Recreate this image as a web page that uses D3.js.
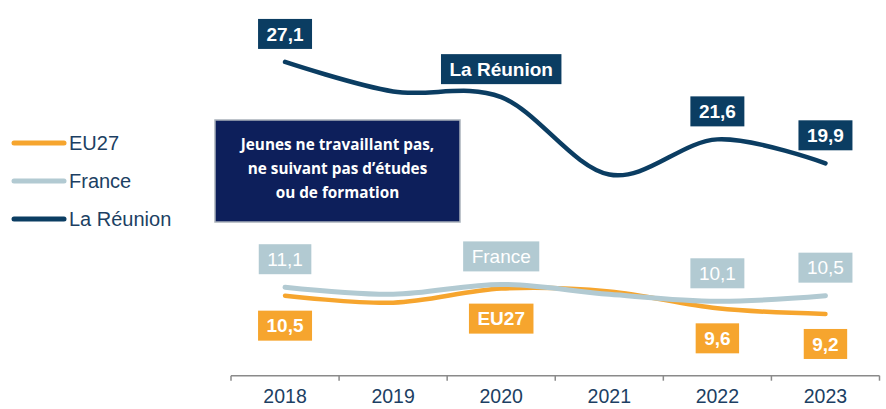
<!DOCTYPE html>
<html>
<head>
<meta charset="utf-8">
<script src="https://cdn.jsdelivr.net/npm/d3@7"></script>
<style>
  body { margin: 0; background: #fff; }
  svg { display: block; }
</style>
</head>
<body>
<div id="chart"></div>
<script>
// data
var years = ["2018", "2019", "2020", "2021", "2022", "2023"]
var reunion = [27.1, 25.0, 24.6, 19.1, 21.6, 19.9]
var france = [11.1, 10.6, 11.3, 10.6, 10.1, 10.5]
var eu27 = [10.5, 10.0, 11.0, 10.8, 9.6, 9.2]
var seriesNames = ["EU27", "France", "La Réunion"]
var labelledYears = [0, 4, 5]   // value labels
var nameYear = 2                // where the series name sits
var titleLines = ["Jeunes ne travaillant pas,", "ne suivant pas d\u2019études", "ou de formation"]

var W = 886, H = 409
var fr = d3.formatLocale({decimal: ",", thousands: " ", grouping: [3], currency: ["", " €"]})
var fmt = fr.format(".1f")

var series = [
  {name: seriesNames[0], values: eu27, colour: "#f6a52e", width: 4.5, labelDy: 30, bold: true},
  {name: seriesNames[1], values: france, colour: "#b2cad2", width: 5, labelDy: -28, bold: false},
  {name: seriesNames[2], values: reunion, colour: "#0b3d62", width: 4.5, labelDy: -28, bold: true}
]

var svg = d3.select("#chart").append("svg")
  .attr("width", W).attr("height", H)

var x = d3.scaleBand().domain(years).range([231, 879.5])
var y = d3.scaleLinear().domain([0, 30]).range([443.5, 21.1])
function cx(i) { return x(years[i]) + x.bandwidth() / 2 }

// category axis: line, ticks at band edges, labels at centres
var axisY = 375.7
var edges = years.map(d => x(d)).concat([x.range()[1]])
var axis = svg.append("g").classed("axis", true)
axis.append("line")
  .attr("x1", edges[0]).attr("x2", edges[edges.length - 1])
  .attr("y1", axisY).attr("y2", axisY)
  .style("stroke", "#8a8a8a").style("stroke-width", 1.5)
axis.selectAll("line.tick").data(edges).enter().append("line").classed("tick", true)
  .attr("x1", d => d).attr("x2", d => d)
  .attr("y1", axisY).attr("y2", axisY + 5)
  .style("stroke", "#8a8a8a").style("stroke-width", 1.5)
axis.selectAll("text").data(years).enter().append("text")
  .attr("x", (d, i) => cx(i)).attr("y", 403)
  .attr("text-anchor", "middle")
  .style("font-family", "'Liberation Sans', Arial, sans-serif")
  .style("font-size", "19.5px")
  .style("fill", "#1c3f63")
  .text(d => d)

// lines
var line = d3.line()
  .x((d, i) => cx(i))
  .y(d => y(d))
  .curve(d3.curveCardinal.tension(0))

svg.selectAll("path.serie").data(series).enter().append("path").classed("serie", true)
  .attr("d", d => line(d.values))
  .style("fill", "none")
  .style("stroke", d => d.colour)
  .style("stroke-width", d => d.width)
  .style("stroke-linecap", "round")

// boxed labels
function boxLabel(g, cxv, cyv, txt, colour, bold) {
  var grp = g.append("g")
  var r = grp.append("rect").style("fill", colour)
  var t = grp.append("text")
    .attr("x", cxv).attr("y", cyv).attr("dy", "0.35em")
    .attr("text-anchor", "middle")
    .style("font-family", "'Liberation Sans', Arial, sans-serif")
    .style("font-size", "19px")
    .style("font-weight", bold ? "bold" : "normal")
    .style("fill", "#fff")
    .text(txt)
  var w = t.node().getComputedTextLength() + 17
  var h = 30
  r.attr("x", cxv - w / 2).attr("y", cyv - h / 2).attr("width", w).attr("height", h)
}

var labels = svg.append("g").classed("labels", true)
series.forEach(function(s) {
  labelledYears.forEach(function(i) {
    boxLabel(labels, cx(i), y(s.values[i]) + s.labelDy, fmt(s.values[i]), s.colour, s.bold)
  })
  boxLabel(labels, cx(nameYear), y(s.values[nameYear]) + s.labelDy, s.name, s.colour, s.bold)
})

// legend
var legend = svg.append("g").classed("legend", true)
var lg = legend.selectAll("g").data(series).enter().append("g")
  .attr("transform", (d, i) => "translate(0," + (143 + i * 38) + ")")
lg.append("line")
  .attr("x1", 14).attr("x2", 64).attr("y1", 0).attr("y2", 0)
  .style("stroke", d => d.colour).style("stroke-width", 5)
  .style("stroke-linecap", "round")
lg.append("text")
  .attr("x", 69).attr("y", 0).attr("dy", "0.35em")
  .style("font-family", "'Liberation Sans', Arial, sans-serif")
  .style("font-size", "20px")
  .style("fill", "#1c3f63")
  .text(d => d.name)

// title box
var tb = svg.append("g").classed("title", true)
tb.append("rect")
  .attr("x", 215).attr("y", 120).attr("width", 245).attr("height", 102)
  .style("fill", "#0d1f5b").style("stroke", "#a9b1bb").style("stroke-width", 1.5)
tb.selectAll("text").data(titleLines).enter().append("text")
  .attr("x", 337.5).attr("y", (d, i) => 145 + i * 24).attr("dy", "0.35em")
  .attr("text-anchor", "middle")
  .style("font-family", "'Open Sans', Lato, sans-serif")
  .style("font-weight", "bold")
  .style("font-size", "15.3px")
  .style("fill", "#fff")
  .text(d => d)
</script>
</body>
</html>
